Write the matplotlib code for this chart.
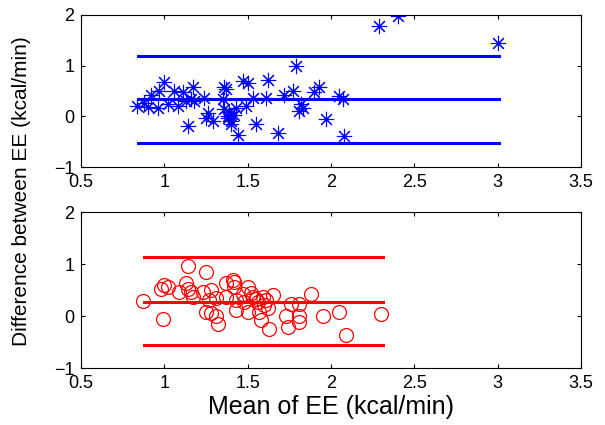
import numpy as np
import matplotlib.pyplot as plt

plt.rcParams['font.family'] = ['Liberation Sans', 'DejaVu Sans']

# top panel (asterisks, blue)
mean_a = [0.835, 0.90, 0.96, 0.92, 0.97, 1.00, 1.06, 1.08, 1.11, 1.13, 1.17, 1.16,
          1.14, 1.18, 1.24, 1.25, 1.29, 1.26, 1.36, 1.35, 1.36, 1.38, 1.40,
          1.79, 1.47, 1.50, 1.62, 1.37, 1.72, 1.77, 1.90, 1.93, 1.53, 1.61, 1.49,
          1.43, 1.38, 1.40, 1.55, 1.44, 1.68, 1.82, 1.81, 1.83, 1.97, 2.05, 2.07,
          2.08, 2.29, 2.40, 3.00, 1.02, 1.39, 1.42, 0.88]
diff_a = [0.20, 0.18, 0.17, 0.43, 0.50, 0.68, 0.50, 0.20, 0.47, 0.30, 0.57, 0.34,
          -0.19, 0.30, 0.37, -0.03, -0.09, 0.07, 0.57, 0.34, 0.14, -0.03, -0.16,
          0.99, 0.69, 0.66, 0.71, 0.53, 0.43, 0.49, 0.47, 0.57, 0.37, 0.37, 0.20,
          0.17, 0.00, -0.09, -0.16, -0.36, -0.32, 0.24, 0.10, 0.17, -0.06, 0.40, 0.34,
          -0.38, 1.78, 1.98, 1.45, 0.25, 0.08, 0.02, 0.27]
limits_a = [1.18, 0.34, -0.53]
span_a = [0.84, 3.01]

# bottom panel (circles, red)
mean_b = [0.87, 0.99, 1.14, 1.25, 1.00, 0.98, 1.02, 1.09, 1.13, 1.14, 1.16, 1.17,
          1.23, 1.28, 1.27, 1.31, 1.25, 1.28, 1.31, 1.32, 1.37, 1.41, 1.42, 1.43,
          1.37, 1.42, 1.50, 1.47, 1.53, 1.59, 1.65, 1.61, 1.56, 1.48, 1.43, 1.50,
          1.57, 1.58, 1.63, 1.76, 1.81, 1.88, 1.73, 1.81, 1.74, 1.81, 1.95, 2.05,
          2.30, 2.09, 1.55, 1.60, 1.62, 1.52]
diff_b = [0.29, -0.06, 0.96, 0.85, 0.59, 0.53, 0.56, 0.46, 0.63, 0.53, 0.46, 0.37,
          0.46, 0.50, 0.30, 0.34, 0.08, 0.05, 0.01, -0.15, 0.63, 0.69, 0.56, 0.30,
          0.37, 0.66, 0.56, 0.43, 0.37, 0.37, 0.40, 0.30, 0.27, 0.27, 0.11, 0.08,
          0.08, -0.08, -0.24, 0.24, 0.24, 0.43, 0.01, 0.01, -0.21, -0.12, 0.01, 0.08,
          0.03, -0.37, 0.33, 0.22, 0.15, 0.45]
limits_b = [1.13, 0.28, -0.56]
span_b = [0.88, 2.31]

xticks = [0.5, 1, 1.5, 2, 2.5, 3, 3.5]
yticks = [-1, 0, 1, 2]

fig = plt.figure(figsize=(6.05, 4.25), dpi=100)
ax1 = fig.add_axes([0.134, 0.607, 0.826, 0.358])
ax2 = fig.add_axes([0.134, 0.134, 0.826, 0.367])

asterisk = (8, 2, 0)
ax1.plot(mean_a, diff_a, linestyle='none', marker=asterisk, markersize=11,
         markeredgecolor='#0000ff', markeredgewidth=0.8)
for y in limits_a:
    ax1.plot(span_a, [y, y], color='#0000ff', lw=2.2)

ax2.plot(mean_b, diff_b, linestyle='none', marker='o', markersize=10,
         markerfacecolor='none', markeredgecolor='#ff0000', markeredgewidth=0.9)
for y in limits_b:
    ax2.plot(span_b, [y, y], color='#ff0000', lw=2.2)

for ax in (ax1, ax2):
    ax.set_xlim(0.5, 3.5)
    ax.set_ylim(-1, 2)
    ax.set_xticks(xticks)
    ax.set_xticklabels(['0.5', '1', '1.5', '2', '2.5', '3', '3.5'])
    ax.set_yticks(yticks)
    ax.tick_params(direction='in', top=True, right=True, labelsize=13,
                   length=3, width=0.8)
    ax.tick_params(axis='x', pad=5)
    ax.tick_params(axis='y', pad=5)
    for s in ax.spines.values():
        s.set_linewidth(0.8)

ax2.set_xlabel('Mean of EE (kcal/min)', fontsize=18, labelpad=2)
fig.text(0.035, 0.55, 'Difference between EE (kcal/min)', rotation=90,
         ha='center', va='center', fontsize=15)

fig.savefig('out.png', dpi=100)
